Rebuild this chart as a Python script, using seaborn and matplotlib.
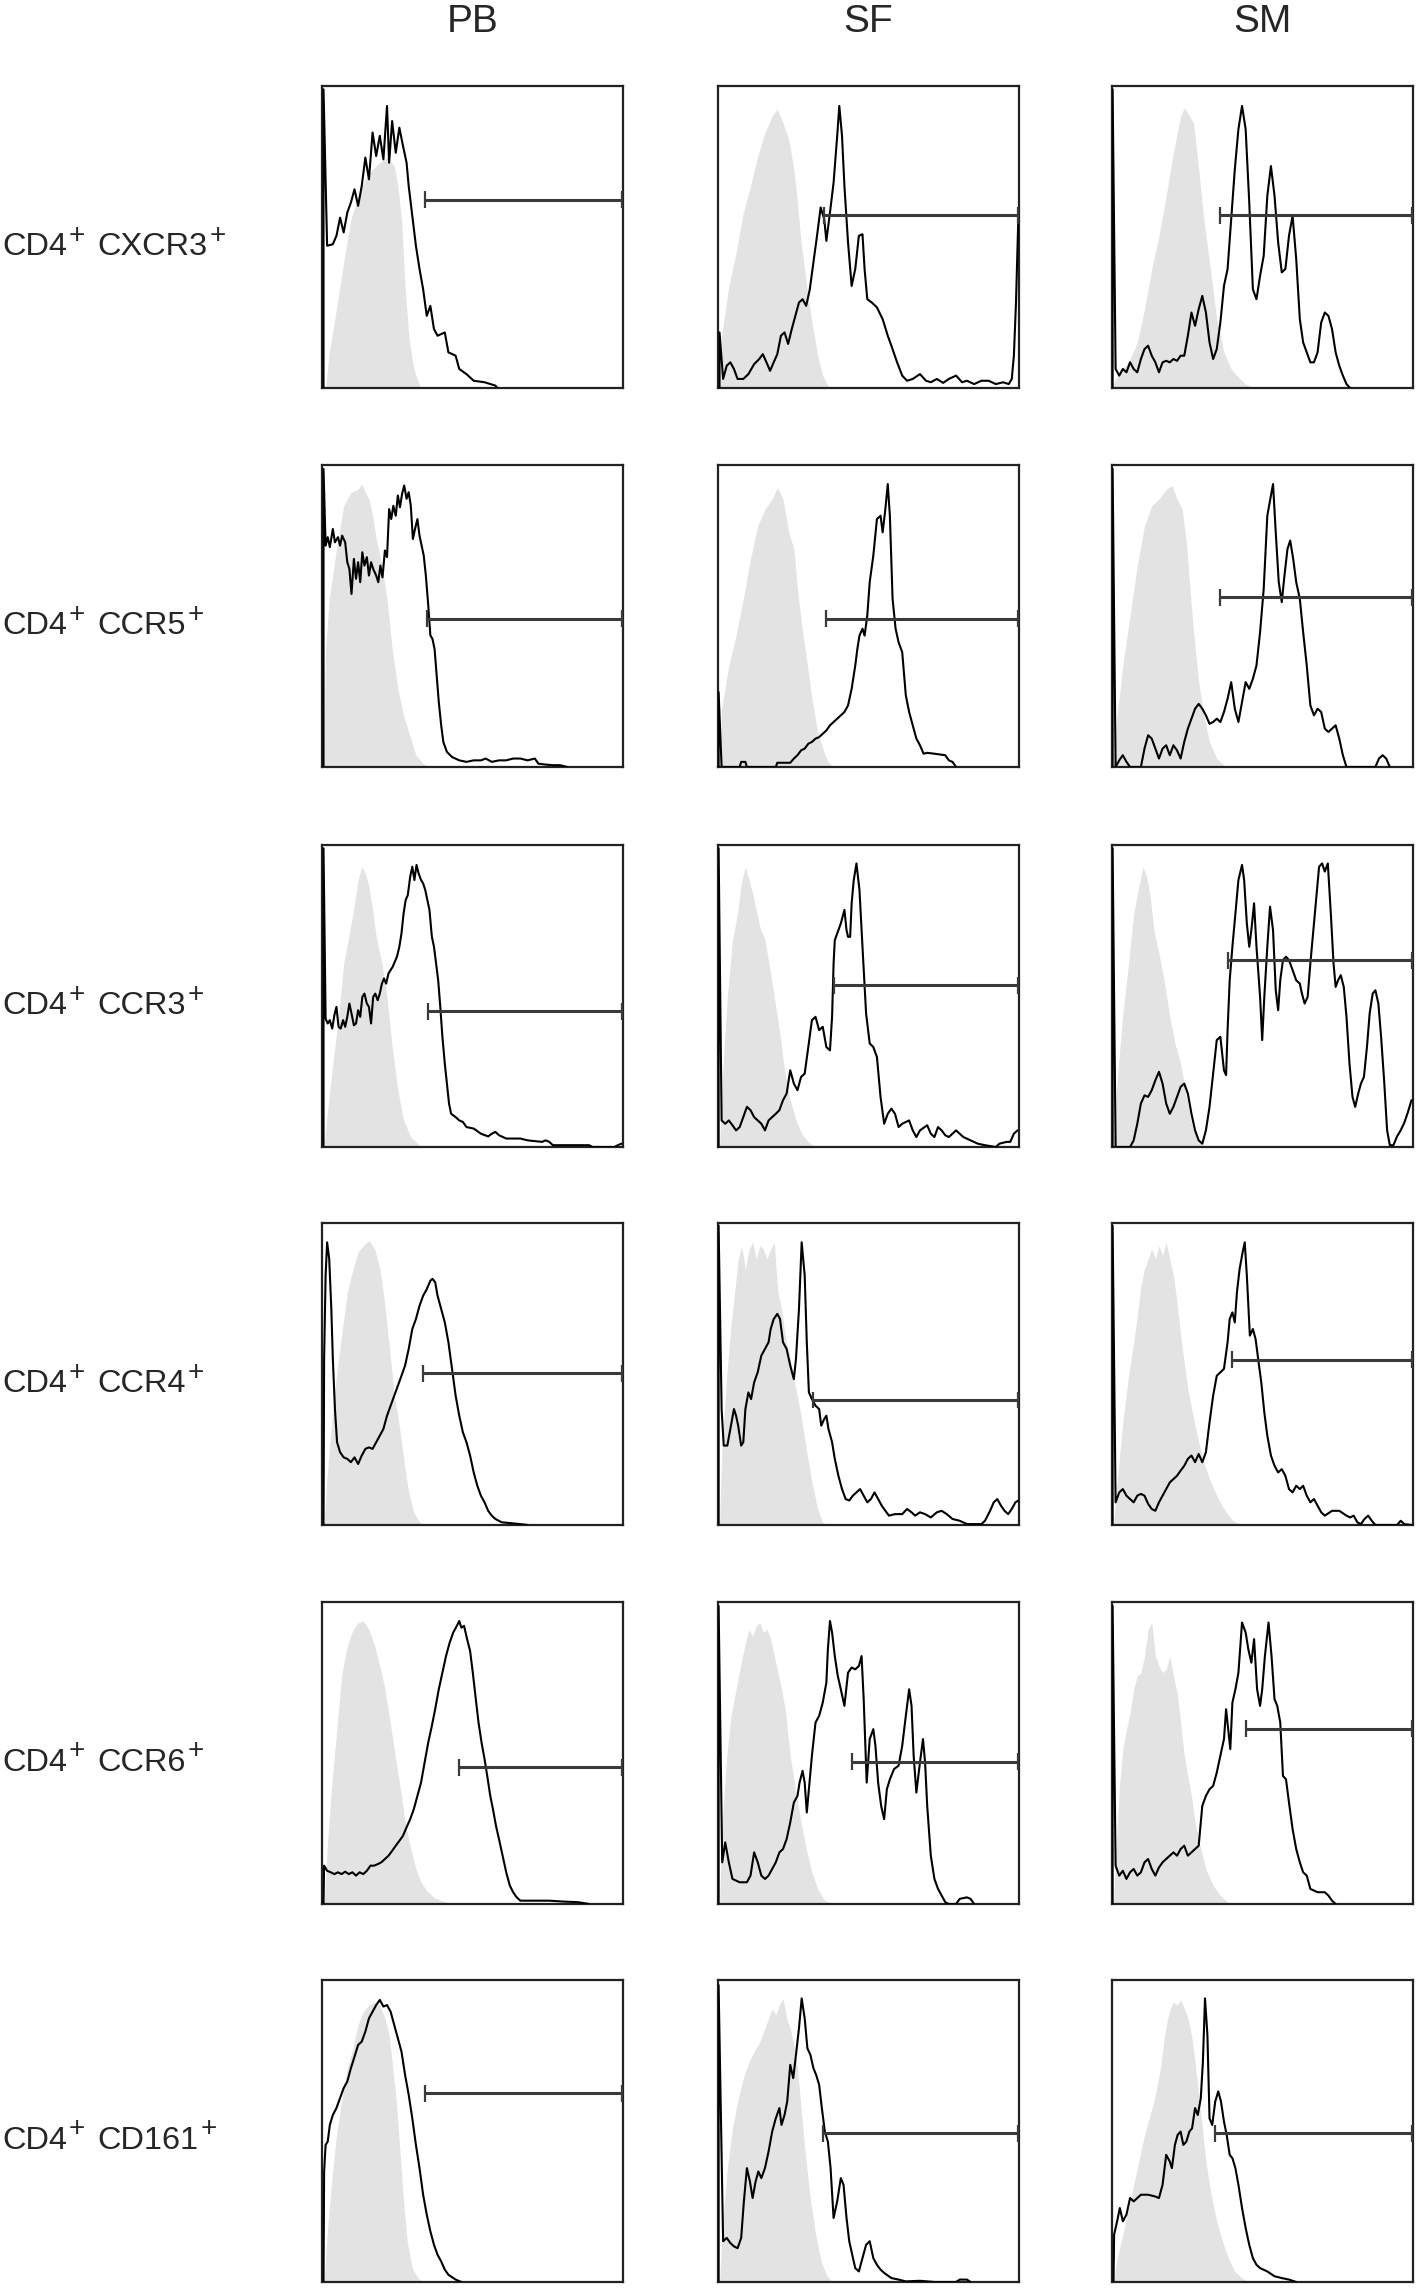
import matplotlib
matplotlib.use('Agg')
import matplotlib.pyplot as plt
import seaborn as sns

# column / row labels
tissues = ['PB', 'SF', 'SM']
markers = ['CXCR3', 'CCR5', 'CCR3', 'CCR4', 'CCR6', 'CD161']

# histograms: (channel %, count % of box height)
# ---- CXCR3 ----
cxcr3_pb = [(0.5, 0), (0.5, 98.9), (1.7, 47.1), (3.6, 47.6), (4.8, 50.4), (6.0, 56.4), (7.2, 51.5), (8.4, 58.1),
            (9.6, 61.4), (10.8, 65.8), (12.0, 60.3), (13.2, 66.9), (14.4, 76.3), (15.6, 69.1), (16.8, 84.6),
            (18.0, 76.8), (19.2, 83.5), (20.4, 75.7), (21.6, 93.4), (22.3, 74.6), (23.3, 88.4), (24.5, 77.9),
            (25.7, 86.2), (26.9, 80.2), (28.1, 74.6), (28.8, 66.9), (30.0, 57.0), (31.2, 47.1), (32.4, 39.4),
            (33.6, 32.7), (34.8, 23.9), (36.0, 27.2), (37.2, 19.5), (38.4, 17.3), (40.8, 18.4), (42.0, 11.8),
            (44.4, 10.7), (45.6, 6.3), (48.0, 4.6), (50.4, 2.4), (54.0, 1.9), (57.6, 0.8), (58.3, 0)]
cxcr3_pb_iso = [(1.2, 0), (2.4, 11.8), (4.8, 26.1), (7.2, 41.6), (9.6, 55.9), (12.0, 63.6), (14.4, 69.1),
                (16.8, 72.4), (19.2, 74.6), (21.6, 76.3), (24.0, 73.5), (25.2, 66.9), (26.4, 55.9), (27.6, 33.8),
                (28.8, 17.3), (30.5, 6.3), (32.4, 0.8), (33.6, 0)]
cxcr3_sf = [(0.5, 0), (0.5, 18.4), (1.7, 3.0), (2.9, 7.4), (4.1, 8.5), (5.3, 6.3), (6.5, 3.0), (8.4, 3.0),
            (10.1, 4.6), (12.0, 7.9), (13.7, 9.6), (14.9, 11.2), (16.1, 8.5), (17.3, 5.7), (18.5, 8.5),
            (19.7, 11.2), (20.9, 17.3), (22.1, 18.4), (23.3, 14.6), (24.5, 19.5), (25.7, 23.9), (26.9, 28.3),
            (28.1, 29.4), (29.3, 27.2), (30.5, 32.7), (31.7, 41.6), (32.9, 50.4), (34.1, 59.8), (35.3, 55.9),
            (36.0, 48.7), (37.2, 58.1), (38.4, 68.0), (39.6, 83.5), (40.3, 93.4), (41.2, 83.5), (42.0, 66.9),
            (43.2, 48.2), (44.4, 33.8), (45.6, 39.4), (46.8, 50.4), (48.0, 50.9), (48.7, 39.4), (49.6, 29.4),
            (51.1, 28.3), (52.8, 26.7), (54.7, 22.8), (56.4, 17.3), (57.6, 14.0), (59.5, 8.5), (61.2, 4.1),
            (62.8, 2.4), (64.7, 3.0), (67.1, 4.6), (69.1, 2.4), (70.7, 1.9), (72.7, 3.0), (74.8, 1.7),
            (76.7, 3.0), (79.1, 4.1), (81.1, 1.9), (82.7, 2.4), (85.1, 1.3), (87.5, 2.4), (89.9, 2.4),
            (92.3, 1.3), (94.7, 1.9), (96.6, 1.3), (97.6, 3.0), (98.3, 10.7), (99.0, 28.3), (99.8, 57.0)]
cxcr3_sf_iso = [(0, 0), (1.2, 17.3), (3.6, 33.8), (6.0, 44.8), (8.4, 58.1), (10.8, 66.9), (13.2, 76.8),
                (15.6, 84.6), (18.0, 90.1), (19.7, 92.3), (21.6, 87.8), (23.5, 82.3), (25.2, 72.4), (26.4, 61.4),
                (27.6, 48.2), (29.3, 35.0), (31.2, 21.8), (33.1, 10.7), (34.8, 4.1), (36.5, 0.8), (37.9, 0)]
cxcr3_sm = [(0.2, 0), (0.2, 98.9), (1.2, 6.3), (2.4, 4.1), (3.6, 6.3), (4.8, 5.2), (6.0, 8.5), (7.2, 6.3),
            (8.4, 5.2), (9.6, 9.6), (10.8, 12.9), (12.0, 14.0), (13.2, 10.7), (14.4, 8.5), (15.6, 5.2),
            (16.8, 8.5), (18.0, 9.0), (19.2, 8.5), (20.4, 9.6), (21.6, 9.0), (22.8, 10.7), (24.0, 10.7),
            (25.2, 17.3), (26.4, 25.0), (27.6, 20.6), (28.8, 26.1), (30.0, 30.5), (31.2, 25.0), (32.4, 15.1),
            (33.6, 9.6), (34.8, 12.9), (36.0, 21.7), (37.2, 33.8), (38.4, 39.4), (39.6, 55.9), (40.8, 72.4),
            (42.0, 85.7), (43.2, 93.4), (44.4, 85.7), (45.6, 61.4), (46.8, 32.7), (48.0, 29.4), (49.2, 37.2),
            (50.4, 43.8), (51.6, 63.6), (52.8, 73.5), (54.0, 63.6), (55.2, 48.2), (56.4, 38.3), (57.6, 39.4),
            (58.8, 50.4), (60.0, 57.0), (61.2, 42.7), (62.4, 22.8), (63.5, 15.1), (64.7, 11.8), (65.9, 8.5),
            (67.1, 8.5), (68.3, 11.8), (69.5, 21.7), (70.7, 25.0), (71.9, 23.9), (73.1, 19.5), (74.3, 11.8),
            (75.5, 7.4), (76.7, 4.1), (77.9, 1.3), (79.1, 0)]
cxcr3_sm_iso = [(0, 0), (1.2, 3.0), (3.6, 6.3), (6.0, 9.6), (8.4, 15.1), (10.8, 26.1), (13.2, 39.4), (15.6, 50.4),
                (18.0, 63.6), (20.4, 77.9), (22.8, 90.0), (24.0, 92.8), (25.2, 91.0), (27.1, 87.7), (28.8, 72.4),
                (30.5, 55.9), (32.4, 41.6), (34.8, 22.8), (37.2, 11.8), (39.6, 6.3), (42.0, 3.5), (44.4, 1.3),
                (46.8, 0.2), (48.0, 0)]

# ---- CCR5 ----
ccr5_pb = [(0.5, 0), (0.5, 98.7), (1.2, 73.3), (1.9, 76.1), (2.6, 72.8), (3.6, 78.8), (4.3, 74.4), (5.3, 76.1),
           (6.0, 73.3), (6.7, 76.6), (7.7, 74.4), (8.4, 67.8), (9.1, 65.6), (9.8, 57.3), (10.6, 68.9),
           (11.3, 62.3), (12.0, 67.8), (12.7, 61.2), (13.4, 71.1), (14.1, 66.7), (14.9, 69.5), (15.6, 63.4),
           (16.3, 67.8), (17.0, 65.6), (18.0, 63.4), (18.7, 61.2), (19.4, 66.7), (20.1, 62.8), (20.9, 71.7),
           (21.6, 69.5), (22.3, 85.4), (23.0, 82.1), (23.7, 86.5), (24.5, 83.2), (25.2, 89.9), (25.9, 86.0),
           (26.6, 90.4), (27.3, 93.2), (28.1, 88.8), (28.8, 91.0), (29.5, 86.5), (30.2, 75.5), (30.9, 78.8),
           (31.7, 82.1), (32.4, 76.6), (33.1, 73.3), (33.8, 70.0), (34.5, 63.4), (35.3, 53.5), (36.0, 43.6),
           (36.7, 42.4), (37.4, 39.1), (38.1, 30.3), (38.8, 21.5), (39.6, 13.8), (40.3, 8.3), (41.5, 5.0),
           (43.2, 3.3), (45.6, 2.2), (48.0, 1.7), (50.4, 2.2), (52.8, 2.2), (54.4, 2.8), (56.4, 1.7),
           (58.8, 2.2), (61.2, 2.2), (63.5, 2.8), (65.9, 2.8), (68.3, 2.2), (70.7, 2.8), (71.9, 1.1),
           (74.3, 0.8), (76.7, 0.6), (79.1, 0.6), (81.5, 0)]
ccr5_pb_iso = [(0.5, 0), (1.2, 39.1), (2.4, 55.7), (4.8, 72.2), (7.2, 86.5), (9.6, 90.9), (12.0, 92.0),
               (13.2, 93.7), (14.4, 90.9), (15.6, 88.7), (16.8, 83.2), (18.0, 75.5), (19.9, 66.7), (21.6, 55.7),
               (23.3, 39.1), (25.2, 25.9), (27.1, 17.1), (28.8, 11.6), (31.2, 3.9), (33.6, 1.1), (36.0, 0)]
ccr5_sf = [(0.2, 0), (0.2, 24.8), (1.2, 0), (7.2, 0), (7.7, 1.7), (9.1, 1.7), (9.6, 0), (19.2, 0), (19.7, 1.4),
           (24.0, 1.4), (25.2, 2.8), (26.4, 3.9), (27.6, 5.5), (28.8, 6.1), (30.0, 7.7), (31.2, 8.3), (32.4, 9.4),
           (33.6, 9.9), (34.8, 11.0), (36.0, 12.1), (37.2, 13.8), (38.4, 14.9), (39.6, 16.0), (40.8, 17.1),
           (42.0, 18.2), (43.2, 20.4), (44.4, 25.9), (45.6, 33.6), (46.3, 39.1), (47.0, 43.5), (48.0, 45.8),
           (48.7, 43.5), (49.6, 50.2), (50.4, 61.2), (51.6, 70.0), (52.8, 82.1), (54.0, 83.2), (54.7, 77.7),
           (55.6, 85.4), (56.4, 93.7), (57.1, 83.2), (58.0, 55.7), (59.0, 45.8), (60.0, 41.3), (61.2, 38.0),
           (62.4, 23.7), (63.5, 18.2), (64.7, 13.8), (65.9, 9.4), (67.1, 7.2), (68.3, 4.4), (69.5, 4.7),
           (71.9, 4.4), (75.5, 3.9), (76.7, 2.2), (77.9, 1.7), (79.1, 0)]
ccr5_sf_iso = [(0.5, 0), (1.2, 19.3), (3.6, 33.6), (6.0, 43.5), (8.4, 55.7), (10.8, 68.9), (13.2, 79.9),
               (15.6, 85.4), (18.0, 88.7), (19.7, 92.6), (21.6, 88.7), (23.5, 77.7), (25.2, 72.2), (26.4, 59.0),
               (28.1, 44.7), (29.7, 33.6), (31.2, 22.6), (33.1, 11.6), (34.8, 6.1), (36.5, 1.7), (38.4, 0)]
ccr5_sm = [(0.2, 0), (0.2, 98.7), (1.2, 0), (2.4, 2.2), (3.6, 3.9), (4.8, 1.7), (6.0, 0), (9.6, 0), (10.8, 6.1),
           (12.0, 10.5), (13.2, 9.4), (14.4, 6.1), (15.6, 2.8), (16.8, 6.1), (18.0, 7.2), (19.2, 3.9),
           (20.4, 7.2), (21.6, 5.5), (22.8, 2.8), (24.0, 8.3), (25.2, 12.7), (26.4, 16.0), (27.6, 19.3),
           (28.8, 20.9), (30.0, 19.3), (31.2, 17.1), (32.4, 14.3), (33.6, 14.9), (34.8, 16.0), (36.0, 14.9),
           (37.2, 18.2), (38.4, 22.6), (39.6, 28.1), (40.8, 19.3), (42.0, 14.9), (43.2, 21.5), (44.4, 28.1),
           (45.6, 25.9), (46.8, 29.2), (48.0, 33.6), (49.2, 44.7), (50.4, 59.0), (51.6, 83.2), (52.8, 89.9),
           (53.5, 93.7), (54.4, 77.7), (55.4, 61.2), (56.4, 54.6), (57.3, 63.4), (58.3, 72.2), (59.2, 75.0),
           (60.2, 68.9), (61.2, 61.2), (62.4, 55.7), (63.5, 44.7), (64.7, 33.6), (65.9, 20.4), (67.1, 17.1),
           (68.3, 19.3), (69.5, 18.2), (70.7, 12.7), (71.9, 11.6), (73.1, 12.7), (74.3, 13.8), (75.5, 9.4),
           (76.7, 3.9), (77.9, 0), (87.5, 0), (88.7, 2.8), (89.9, 3.9), (91.1, 2.8), (92.3, 0)]
ccr5_sm_iso = [(0.5, 0), (1.7, 17.1), (3.6, 33.6), (6.0, 50.2), (8.4, 66.7), (10.8, 79.9), (13.2, 86.5),
               (15.6, 88.7), (18.0, 92.0), (19.9, 93.2), (21.6, 88.7), (23.3, 85.4), (24.7, 74.4), (25.9, 59.0),
               (27.1, 44.7), (28.8, 28.1), (30.5, 17.1), (32.4, 8.3), (34.8, 2.8), (37.2, 0.6), (39.6, 0)]

# ---- CCR3 ----
ccr3_pb = [(0.5, 0), (0.5, 98.9), (1.2, 42.5), (1.9, 40.9), (2.6, 42.0), (3.4, 39.2), (4.1, 43.6), (4.8, 46.4),
           (5.5, 39.8), (6.2, 39.2), (7.0, 42.0), (7.7, 39.8), (8.4, 43.1), (9.1, 47.5), (9.8, 44.2),
           (10.6, 40.3), (11.3, 40.9), (12.0, 45.3), (12.7, 43.1), (13.4, 49.7), (14.1, 50.8), (14.9, 47.5),
           (15.6, 46.4), (16.3, 40.9), (17.0, 49.7), (17.7, 50.8), (18.5, 48.6), (19.2, 50.8), (19.9, 54.1),
           (20.6, 55.8), (21.3, 54.1), (22.1, 57.5), (22.8, 58.6), (23.5, 59.7), (24.9, 63.0), (25.7, 66.3),
           (26.4, 70.7), (27.1, 77.3), (27.8, 81.8), (28.5, 83.4), (29.3, 89.5), (30.0, 92.8), (30.7, 88.4),
           (31.4, 93.4), (32.1, 90.6), (32.9, 88.4), (33.6, 87.3), (34.3, 85.1), (35.0, 81.8), (35.7, 78.5),
           (36.5, 69.6), (37.2, 66.3), (37.9, 60.8), (38.6, 55.2), (39.3, 46.4), (40.0, 36.5), (40.8, 27.6),
           (41.5, 21.0), (42.2, 14.4), (42.9, 11.0), (44.4, 9.9), (45.6, 8.8), (46.8, 8.3), (48.0, 6.6),
           (50.4, 6.1), (52.8, 4.4), (55.2, 3.5), (56.4, 4.4), (57.6, 5.0), (58.8, 3.9), (61.2, 2.8),
           (65.9, 2.8), (68.3, 2.2), (73.1, 1.7), (74.3, 2.2), (75.5, 1.7), (76.7, 0.6), (88.7, 0.6),
           (89.9, 0), (97.1, 0), (98.3, 0.6), (99.5, 1.1)]
ccr3_pb_iso = [(0.7, 0), (1.7, 11.0), (3.6, 27.6), (5.5, 43.1), (7.2, 60.8), (8.9, 69.6), (10.3, 77.3),
               (12.0, 88.4), (13.2, 92.8), (14.4, 90.6), (15.6, 86.2), (16.8, 78.5), (18.0, 69.6), (19.9, 60.8),
               (21.6, 49.7), (23.3, 33.1), (25.2, 18.8), (27.1, 8.8), (29.5, 3.3), (32.4, 0.6), (34.8, 0)]
ccr3_sf = [(0.2, 0), (0.2, 98.9), (1.2, 8.8), (2.4, 7.7), (3.6, 8.8), (4.8, 7.2), (6.0, 5.5), (7.2, 6.6),
           (8.4, 9.9), (9.6, 13.3), (10.8, 12.2), (12.0, 9.9), (13.2, 8.8), (14.4, 7.7), (15.6, 5.5), (16.8, 8.8),
           (18.0, 9.9), (19.2, 11.0), (20.4, 12.2), (21.6, 15.5), (22.8, 17.7), (24.0, 25.4), (25.2, 21.0),
           (26.4, 18.8), (27.6, 23.2), (28.8, 24.3), (30.0, 33.1), (31.2, 42.0), (32.4, 43.1), (33.6, 38.7),
           (34.8, 39.8), (36.0, 33.1), (37.2, 32.0), (37.9, 43.1), (38.4, 60.8), (38.8, 68.5), (39.6, 70.7),
           (40.8, 74.0), (42.0, 78.5), (42.7, 71.8), (43.2, 69.6), (43.9, 69.6), (44.4, 80.7), (45.1, 88.4),
           (46.0, 93.9), (47.0, 85.1), (48.0, 66.3), (49.2, 44.2), (50.4, 34.3), (51.6, 33.1), (52.8, 29.8),
           (54.0, 16.6), (55.2, 7.7), (56.4, 11.0), (57.6, 12.7), (58.8, 11.0), (60.0, 6.6), (61.2, 7.7),
           (63.5, 8.8), (64.7, 5.5), (65.9, 3.3), (67.1, 5.5), (69.5, 7.2), (70.7, 4.4), (71.9, 3.3),
           (73.1, 6.6), (74.3, 5.5), (75.5, 3.9), (76.7, 3.3), (79.1, 5.5), (81.5, 3.3), (83.9, 2.2),
           (86.3, 1.1), (88.7, 0.6), (92.3, 0), (93.5, 1.1), (95.9, 1.7), (97.1, 1.7), (98.3, 4.4), (99.5, 5.5)]
ccr3_sf_iso = [(0.5, 0), (1.7, 27.6), (3.1, 49.7), (4.8, 68.5), (6.5, 77.3), (7.7, 87.3), (9.1, 92.8),
               (10.3, 88.4), (11.5, 84.0), (12.7, 78.5), (13.9, 72.9), (15.6, 68.5), (17.3, 58.6), (18.7, 49.7),
               (20.4, 38.7), (22.1, 25.4), (24.0, 15.5), (25.9, 8.8), (27.8, 4.4), (30.0, 1.7), (32.4, 0)]
ccr3_sm = [(0.2, 0), (0.2, 98.9), (1.2, 0), (6.0, 0), (7.2, 2.2), (8.4, 7.7), (9.6, 14.4), (10.8, 17.1),
           (12.0, 16.6), (13.2, 18.8), (14.4, 22.1), (15.6, 24.9), (16.8, 21.0), (18.0, 14.4), (19.2, 11.0),
           (20.4, 13.3), (21.6, 16.6), (22.8, 19.9), (24.0, 21.0), (25.2, 17.7), (26.4, 11.0), (27.6, 5.5),
           (28.8, 2.2), (30.0, 1.1), (31.2, 5.5), (32.4, 13.3), (33.6, 24.3), (34.8, 35.4), (36.0, 36.5),
           (37.2, 25.4), (37.9, 23.8), (38.4, 38.7), (39.1, 55.2), (40.0, 66.3), (41.0, 77.3), (42.0, 88.4),
           (43.2, 93.4), (43.9, 88.4), (44.8, 74.0), (45.6, 66.3), (46.3, 71.8), (47.2, 80.7), (48.0, 66.3),
           (49.2, 49.7), (49.9, 35.4), (50.6, 49.7), (51.6, 66.3), (52.5, 79.6), (53.5, 71.8), (54.4, 51.9),
           (55.2, 45.3), (55.9, 55.2), (56.8, 61.9), (57.8, 63.0), (58.8, 61.9), (60.0, 58.6), (61.2, 55.2),
           (62.4, 54.1), (63.1, 50.8), (64.0, 47.5), (65.0, 49.7), (65.9, 60.8), (66.9, 71.8), (67.9, 82.9),
           (68.8, 92.8), (69.8, 93.9), (70.7, 91.2), (71.7, 93.9), (72.7, 77.3), (73.6, 60.8), (74.3, 53.0),
           (75.1, 55.2), (76.0, 56.9), (77.0, 53.0), (77.9, 43.1), (78.9, 27.6), (79.9, 16.6), (80.8, 13.3),
           (81.8, 17.7), (82.7, 21.0), (83.7, 23.2), (84.7, 33.1), (85.6, 44.2), (86.6, 50.8), (87.5, 51.9),
           (88.5, 47.5), (89.4, 36.5), (90.4, 22.1), (91.4, 5.5), (92.3, 0.6), (93.5, 0.6), (94.7, 3.5),
           (95.9, 5.5), (97.1, 8.0), (98.3, 11.5), (99.5, 15.5)]
ccr3_sm_iso = [(0.5, 0), (1.7, 22.1), (3.6, 44.2), (5.5, 60.8), (7.2, 77.3), (8.9, 86.2), (10.3, 92.8),
               (11.5, 89.5), (12.7, 82.9), (13.9, 71.8), (15.6, 64.1), (17.3, 55.2), (19.2, 43.1), (20.9, 34.3),
               (22.8, 27.6), (24.7, 16.6), (26.4, 7.7), (28.1, 3.3), (30.0, 0.6), (32.4, 0)]

# ---- CCR4 ----
ccr4_pb = [(0.5, 0), (0.7, 55.0), (1.2, 82.6), (1.7, 93.6), (2.4, 88.1), (3.1, 71.5), (3.6, 55.0), (4.3, 38.4),
           (5.0, 27.4), (6.0, 24.1), (7.2, 22.4), (8.4, 21.9), (9.6, 20.8), (10.8, 22.4), (12.0, 20.2),
           (13.2, 23.0), (14.4, 25.2), (15.6, 25.7), (16.8, 25.2), (18.0, 27.4), (19.2, 29.6), (20.4, 31.8),
           (21.6, 36.2), (22.8, 39.5), (24.0, 42.8), (25.2, 46.1), (26.4, 49.4), (27.6, 52.8), (28.8, 58.3),
           (30.0, 64.9), (31.2, 68.2), (32.4, 72.6), (33.6, 75.9), (34.8, 78.1), (36.0, 80.9), (36.7, 81.5),
           (37.6, 80.4), (38.4, 75.9), (39.6, 71.5), (40.8, 67.1), (42.0, 60.5), (43.2, 51.7), (44.4, 42.8),
           (45.6, 36.2), (46.8, 30.7), (48.0, 27.4), (49.2, 23.0), (50.4, 17.4), (51.6, 13.0), (52.8, 9.7),
           (54.0, 7.5), (55.2, 4.7), (56.4, 3.1), (57.6, 2.0), (59.7, 0.9), (65.9, 0.3), (68.3, 0)]
ccr4_pb_iso = [(0.7, 0), (1.7, 16.3), (3.1, 32.9), (4.8, 49.4), (6.5, 62.7), (8.4, 77.0), (10.3, 84.8),
               (12.0, 90.3), (13.7, 92.5), (15.6, 94.2), (17.5, 91.4), (19.2, 84.8), (20.4, 77.0), (21.6, 66.0),
               (22.8, 55.0), (24.0, 42.8), (25.2, 36.2), (26.4, 27.4), (27.6, 18.5), (28.8, 10.8), (30.5, 4.2),
               (32.4, 0.9), (34.3, 0)]
ccr4_sf = [(0.2, 0), (0.2, 99.1), (1.2, 38.4), (1.9, 26.3), (3.1, 26.3), (4.3, 32.9), (5.3, 38.4), (6.0, 36.2),
           (6.7, 32.9), (7.7, 26.3), (8.4, 27.4), (9.1, 38.4), (10.1, 43.9), (11.0, 41.7), (12.0, 47.2),
           (13.2, 50.6), (14.4, 56.1), (15.6, 58.3), (16.8, 60.5), (17.5, 64.9), (18.5, 68.2), (19.7, 69.9),
           (20.6, 68.2), (21.6, 60.5), (22.8, 58.3), (24.0, 52.8), (25.2, 48.3), (25.9, 55.0), (26.9, 71.5),
           (27.8, 93.6), (28.8, 82.6), (29.5, 60.5), (30.2, 43.9), (31.2, 41.7), (32.4, 39.5), (33.6, 38.4),
           (34.3, 32.9), (35.3, 35.1), (36.0, 36.2), (36.7, 31.8), (37.9, 27.4), (38.8, 21.9), (40.0, 16.3),
           (41.2, 11.9), (42.4, 8.6), (43.6, 8.1), (44.8, 9.7), (46.0, 10.8), (47.2, 11.9), (48.4, 9.7),
           (49.6, 7.5), (50.8, 8.6), (52.0, 10.8), (53.2, 8.6), (54.4, 6.4), (55.6, 4.7), (56.8, 3.1),
           (58.8, 3.6), (61.2, 3.6), (62.8, 5.3), (64.3, 4.2), (65.5, 3.1), (67.1, 4.2), (68.8, 3.6),
           (70.7, 2.5), (72.7, 4.2), (74.3, 4.7), (76.0, 3.6), (77.9, 2.0), (80.3, 1.4), (82.7, 0.3),
           (87.5, 0.3), (88.7, 1.4), (90.4, 4.7), (91.6, 7.5), (92.8, 8.6), (94.0, 6.4), (95.2, 4.7),
           (96.4, 3.6), (97.6, 5.3), (98.8, 7.5), (99.8, 8.1)]
ccr4_sf_iso = [(0.5, 0), (1.4, 27.4), (2.9, 49.4), (4.3, 65.9), (5.5, 76.9), (6.7, 87.9), (7.9, 92.3),
               (9.1, 84.6), (10.3, 91.2), (11.5, 93.6), (12.7, 88.1), (13.9, 92.5), (15.1, 91.4), (16.3, 88.1),
               (17.5, 91.4), (18.7, 93.6), (19.9, 77.0), (21.1, 71.5), (22.3, 62.7), (24.0, 55.0), (25.7, 46.1),
               (27.6, 36.2), (29.3, 25.2), (31.2, 14.1), (33.1, 5.3), (34.8, 0.9), (36.5, 0)]
ccr4_sm = [(0.2, 0), (0.2, 99.1), (1.2, 7.5), (2.4, 10.8), (3.6, 11.9), (4.8, 9.7), (6.0, 8.6), (7.2, 7.5),
           (8.4, 9.7), (9.6, 10.3), (10.8, 9.7), (12.0, 7.0), (13.2, 5.3), (14.4, 4.7), (15.6, 7.5), (16.8, 9.7),
           (18.0, 11.9), (19.2, 14.1), (20.4, 15.2), (21.6, 16.3), (22.8, 18.0), (24.0, 19.6), (25.2, 21.9),
           (26.4, 23.0), (27.6, 20.8), (28.8, 23.5), (30.0, 20.8), (31.2, 24.1), (32.4, 34.0), (33.6, 42.8),
           (34.8, 49.4), (37.2, 51.7), (38.4, 60.5), (39.1, 68.2), (40.0, 70.4), (40.8, 67.1), (41.5, 77.0),
           (42.4, 84.8), (43.4, 90.3), (44.1, 93.6), (44.8, 82.6), (45.8, 62.7), (46.8, 64.9), (47.7, 61.6),
           (48.7, 53.9), (49.6, 47.2), (50.6, 37.3), (51.6, 29.6), (52.8, 23.0), (54.0, 19.6), (55.2, 17.4),
           (56.4, 18.5), (57.6, 16.3), (58.8, 11.9), (60.0, 10.8), (61.2, 13.0), (62.4, 11.9), (63.5, 13.0),
           (64.7, 9.7), (65.9, 7.5), (67.1, 8.6), (68.3, 6.4), (69.5, 4.2), (70.7, 3.1), (73.1, 4.7),
           (75.5, 4.7), (77.9, 3.1), (79.1, 2.5), (80.3, 3.1), (81.5, 0.9), (82.7, 0.3), (83.9, 2.0),
           (85.1, 3.1), (86.3, 1.4), (87.5, 0), (94.7, 0), (95.9, 1.4), (97.1, 0.3), (99.5, 0)]
ccr4_sm_iso = [(0.5, 0), (1.2, 8.6), (2.4, 21.9), (3.6, 34.0), (5.5, 49.4), (7.2, 60.5), (8.4, 69.3),
               (9.6, 79.2), (10.8, 84.8), (12.0, 88.1), (13.2, 91.4), (14.4, 88.1), (15.6, 92.5), (16.8, 89.2),
               (18.0, 93.6), (19.2, 88.1), (20.4, 82.6), (21.6, 73.7), (22.8, 62.7), (24.0, 53.9), (25.2, 45.0),
               (26.9, 36.2), (28.8, 27.4), (30.5, 20.8), (32.4, 15.2), (34.8, 9.7), (37.2, 5.3), (39.6, 2.0),
               (42.0, 0.3), (44.4, 0)]

# ---- CCR6 ----
ccr6_pb = [(0.5, 0), (0.7, 12.7), (1.7, 11.0), (2.9, 10.5), (4.1, 9.9), (5.3, 10.5), (6.5, 9.9), (7.7, 10.7),
           (8.9, 9.9), (10.1, 10.5), (11.3, 9.4), (12.5, 10.5), (13.7, 9.9), (14.9, 11.0), (16.1, 12.7),
           (17.3, 12.7), (18.5, 13.2), (19.7, 13.8), (20.9, 14.9), (22.1, 16.0), (23.3, 17.6), (24.5, 19.3),
           (25.7, 20.9), (26.9, 22.6), (28.1, 25.4), (29.3, 28.1), (30.5, 31.4), (31.7, 35.8), (32.9, 40.2),
           (34.1, 46.9), (35.3, 53.5), (36.5, 59.0), (37.6, 64.5), (38.8, 71.1), (40.0, 76.6), (41.2, 82.1),
           (42.4, 86.5), (43.6, 89.9), (44.8, 92.1), (45.6, 93.7), (46.3, 91.5), (47.2, 92.1), (48.2, 87.7),
           (49.2, 83.8), (50.1, 76.6), (51.1, 67.8), (52.0, 60.1), (53.0, 53.5), (54.0, 48.0), (54.9, 42.4),
           (55.9, 35.8), (56.8, 31.4), (57.8, 25.9), (58.8, 21.5), (60.0, 16.0), (61.2, 10.5), (62.4, 6.1),
           (63.5, 3.9), (64.7, 2.2), (65.9, 1.1), (70.7, 1.1), (75.5, 1.1), (80.3, 0.8), (85.1, 0.6), (88.7, 0)]
ccr6_pb_iso = [(0.7, 0), (1.7, 18.2), (3.1, 38.0), (4.8, 56.8), (6.5, 75.5), (8.4, 85.4), (10.3, 90.9),
               (12.0, 93.2), (13.7, 93.7), (15.6, 90.9), (17.5, 85.4), (19.2, 78.8), (20.9, 71.1), (22.3, 62.3),
               (24.0, 51.2), (25.2, 43.5), (26.4, 35.8), (27.6, 27.0), (29.5, 18.2), (31.2, 11.6), (32.9, 7.2),
               (34.8, 4.4), (37.2, 2.2), (39.6, 1.1), (43.2, 0)]
ccr6_sf = [(0.2, 0), (0.2, 98.7), (1.4, 13.8), (2.4, 20.4), (3.6, 13.8), (4.8, 8.3), (7.2, 7.2), (9.6, 7.2),
           (10.8, 9.4), (12.0, 17.1), (13.2, 13.8), (14.4, 9.4), (15.6, 8.3), (16.8, 9.4), (18.0, 11.6),
           (19.2, 13.8), (20.4, 17.1), (21.6, 18.2), (22.8, 21.5), (24.0, 27.0), (25.2, 33.6), (26.4, 35.8),
           (27.1, 40.2), (28.1, 44.1), (28.8, 40.2), (29.5, 30.3), (30.2, 38.0), (31.2, 49.1), (32.4, 60.1),
           (33.6, 62.3), (34.8, 66.7), (36.0, 73.3), (36.5, 84.3), (37.2, 93.7), (37.9, 89.9), (38.8, 82.1),
           (39.8, 75.5), (40.8, 71.1), (42.0, 65.6), (43.2, 76.6), (44.4, 78.3), (45.6, 77.7), (46.8, 78.8),
           (47.7, 82.1), (48.4, 67.8), (49.4, 40.2), (50.4, 54.6), (51.6, 57.9), (52.3, 52.4), (53.2, 40.2),
           (54.2, 32.5), (55.2, 28.1), (56.1, 38.0), (57.1, 41.3), (58.5, 44.7), (60.0, 45.8), (61.2, 52.4),
           (62.4, 62.3), (63.5, 71.1), (64.3, 65.6), (65.0, 49.1), (65.9, 36.9), (67.1, 46.9), (68.1, 54.6),
           (68.8, 46.9), (69.5, 32.5), (70.7, 16.0), (71.9, 8.3), (73.1, 5.0), (74.3, 2.8), (75.5, 0.6),
           (76.7, 0), (79.1, 0), (80.3, 1.7), (82.7, 2.2), (83.9, 1.7), (85.1, 0)]
ccr6_sf_iso = [(0.5, 0), (1.4, 27.0), (2.9, 49.1), (4.3, 62.3), (6.0, 71.1), (7.7, 79.9), (9.1, 86.5),
               (10.3, 90.9), (11.5, 88.7), (12.7, 92.0), (13.9, 93.2), (15.1, 89.9), (16.3, 91.0), (17.5, 87.7),
               (18.7, 82.1), (19.9, 76.6), (21.1, 71.1), (22.3, 64.5), (24.0, 49.1), (25.7, 38.0), (27.6, 27.0),
               (29.3, 18.2), (31.2, 10.5), (33.1, 5.0), (35.5, 1.1), (38.4, 0)]
ccr6_sm = [(0.2, 0), (0.2, 98.7), (1.2, 12.7), (2.4, 9.4), (3.6, 11.0), (4.8, 8.3), (6.0, 10.5), (7.2, 11.6),
           (8.4, 9.4), (9.6, 10.5), (10.8, 13.8), (12.0, 14.9), (13.2, 11.6), (14.4, 9.4), (15.6, 12.1),
           (16.8, 13.8), (18.0, 14.9), (19.2, 16.0), (20.4, 17.1), (21.6, 16.0), (22.8, 18.2), (24.0, 19.3),
           (25.2, 16.0), (26.4, 17.1), (27.6, 18.2), (28.8, 19.3), (30.0, 32.5), (31.2, 35.8), (32.4, 38.0),
           (33.6, 39.1), (34.8, 43.5), (36.0, 49.1), (37.2, 54.6), (37.9, 64.5), (38.6, 57.9), (39.3, 51.3),
           (40.0, 66.7), (41.0, 71.1), (42.0, 76.6), (43.2, 93.2), (44.4, 89.9), (45.3, 84.3), (46.3, 79.9),
           (47.2, 87.7), (48.2, 71.1), (49.2, 65.6), (49.9, 71.1), (50.8, 82.1), (52.0, 93.2), (53.0, 82.1),
           (54.0, 67.8), (54.9, 65.6), (55.9, 60.1), (56.8, 42.4), (57.8, 41.3), (58.8, 33.6), (60.0, 24.8),
           (61.2, 18.2), (62.4, 13.8), (63.5, 10.5), (64.7, 9.4), (65.9, 5.0), (68.3, 3.9), (70.7, 3.9),
           (71.9, 2.8), (73.1, 1.1), (74.3, 0)]
ccr6_sm_iso = [(0.5, 0), (1.2, 16.0), (2.4, 38.0), (3.6, 51.3), (4.8, 57.9), (6.0, 63.4), (7.2, 71.1),
               (8.4, 75.5), (9.6, 76.6), (10.8, 82.1), (12.0, 90.9), (13.2, 93.2), (14.4, 82.1), (15.6, 78.8),
               (16.8, 76.6), (18.0, 77.7), (19.2, 82.1), (20.4, 75.5), (21.6, 70.0), (22.8, 60.1), (24.0, 49.1),
               (25.2, 42.4), (26.4, 35.8), (27.6, 27.0), (29.5, 18.2), (31.2, 11.6), (33.6, 6.1), (36.0, 2.8),
               (38.4, 0.6), (42.0, 0)]

# ---- CD161 ----
cd161_pb = [(0.5, 0), (0.7, 36.6), (1.2, 45.4), (1.9, 46.5), (2.6, 52.0), (3.6, 55.3), (4.8, 57.6), (6.0, 60.9),
            (7.2, 64.2), (8.4, 66.4), (9.6, 70.8), (10.8, 74.6), (12.0, 78.5), (13.2, 79.6), (14.4, 82.9),
            (15.6, 87.3), (16.8, 89.5), (18.0, 91.7), (19.2, 93.4), (20.4, 91.2), (21.6, 91.7), (22.8, 89.5),
            (24.0, 85.1), (25.2, 80.7), (26.4, 76.3), (27.6, 68.6), (28.8, 62.0), (30.0, 54.2), (31.2, 45.4),
            (32.4, 37.7), (33.6, 28.9), (34.8, 22.3), (36.0, 16.8), (37.2, 12.3), (38.4, 9.0), (39.6, 6.8),
            (40.8, 4.1), (42.0, 2.4), (44.4, 0.8), (46.3, 0)]
cd161_pb_iso = [(0.7, 0), (1.7, 15.7), (3.1, 32.2), (4.8, 48.7), (6.5, 59.7), (8.4, 70.8), (10.3, 77.4),
                (12.0, 85.1), (13.7, 89.5), (15.6, 91.7), (17.5, 92.8), (19.2, 91.7), (20.9, 87.3), (22.3, 81.8),
                (23.5, 70.8), (24.7, 59.7), (25.9, 43.2), (27.1, 26.7), (28.3, 13.5), (30.0, 4.6), (31.9, 1.3),
                (33.6, 0)]
cd161_sf = [(0.2, 0), (0.2, 98.3), (1.7, 13.5), (2.9, 14.6), (4.1, 12.9), (5.3, 11.8), (6.5, 11.2), (7.7, 14.6),
            (8.6, 26.7), (9.6, 37.7), (10.6, 33.3), (11.5, 27.8), (12.5, 33.3), (13.4, 36.6), (14.4, 34.4),
            (15.6, 37.7), (16.8, 43.2), (18.0, 49.8), (19.2, 54.2), (20.4, 57.6), (21.1, 52.0), (22.1, 55.3),
            (23.0, 59.8), (24.0, 71.9), (25.0, 67.5), (25.9, 75.2), (26.9, 84.0), (27.8, 93.9), (28.8, 87.3),
            (29.7, 77.4), (30.7, 75.2), (31.7, 70.8), (32.6, 68.6), (33.6, 65.3), (34.5, 57.6), (35.5, 49.8),
            (36.5, 46.5), (37.4, 37.7), (38.4, 21.2), (39.6, 26.7), (40.8, 34.4), (41.7, 32.2), (42.7, 21.2),
            (43.6, 13.5), (44.6, 9.0), (45.6, 4.6), (46.8, 3.5), (48.0, 7.9), (49.2, 12.3), (50.4, 13.5),
            (51.6, 7.9), (52.8, 5.7), (54.0, 4.1), (55.2, 3.0), (57.6, 1.3), (60.0, 0.8), (62.4, 0.2),
            (67.1, 0.4), (71.9, 0), (79.1, 0), (80.3, 0.8), (82.7, 0.8), (83.9, 0)]
cd161_sf_iso = [(0.5, 0), (1.7, 21.2), (3.1, 37.7), (4.8, 50.9), (6.5, 59.7), (8.4, 67.5), (10.3, 73.0),
                (12.0, 76.3), (13.9, 79.6), (15.6, 84.0), (16.8, 87.3), (18.0, 90.6), (19.2, 88.4), (20.4, 91.7),
                (21.6, 93.9), (22.8, 87.3), (24.0, 84.0), (25.2, 78.5), (26.4, 70.8), (27.6, 57.6), (28.8, 44.3),
                (30.5, 28.9), (32.4, 15.7), (34.3, 6.8), (36.0, 2.4), (37.9, 0)]
cd161_sm = [(0.5, 0), (0.7, 15.7), (1.7, 20.1), (2.6, 24.5), (3.6, 20.1), (4.8, 22.3), (6.0, 27.8), (7.2, 26.7),
            (8.4, 27.8), (9.6, 28.9), (12.0, 28.9), (14.4, 28.3), (15.6, 27.8), (16.8, 32.2), (18.0, 42.1),
            (19.2, 39.9), (19.9, 37.7), (20.9, 45.4), (21.8, 48.7), (22.8, 49.8), (23.7, 45.4), (24.7, 46.5),
            (25.7, 49.8), (26.6, 50.9), (27.6, 57.6), (28.5, 55.3), (29.5, 60.9), (30.2, 73.0), (30.9, 93.9),
            (31.7, 81.8), (32.4, 54.2), (33.3, 52.0), (34.3, 59.8), (35.3, 63.1), (36.2, 59.8), (37.2, 53.1),
            (38.1, 48.7), (39.1, 42.1), (40.0, 41.0), (41.0, 37.7), (42.0, 32.2), (43.2, 24.5), (44.4, 17.9),
            (45.6, 12.3), (46.8, 7.9), (48.0, 5.7), (49.2, 4.6), (51.6, 3.5), (54.0, 1.9), (56.4, 1.3),
            (58.8, 0.8), (61.2, 0)]
cd161_sm_iso = [(0.5, 0), (1.7, 7.9), (3.6, 15.7), (5.5, 24.5), (7.2, 32.2), (8.9, 39.9), (10.8, 48.7),
                (12.7, 55.3), (14.4, 61.9), (16.1, 70.8), (17.5, 81.8), (18.5, 87.3), (19.4, 90.6), (20.4, 92.8),
                (21.6, 91.7), (22.8, 93.4), (24.0, 90.6), (25.2, 87.3), (26.4, 81.8), (27.6, 73.0), (28.8, 62.0),
                (30.0, 51.0), (31.2, 39.9), (32.9, 28.9), (34.8, 20.1), (36.7, 13.5), (38.6, 8.0), (40.8, 3.5),
                (43.2, 1.3), (45.6, 0)]

# positive gate: start channel and drawing height, per row [PB, SF, SM]
gate_start = [[34.1, 35.3, 36.0],
              [34.8, 36.0, 36.0],
              [35.3, 38.4, 38.4],
              [33.6, 31.7, 40.0],
              [45.6, 44.4, 44.4],
              [34.1, 34.8, 34.3]]
gate_level = [[62.3, 57.2, 57.2],
              [49.1, 49.1, 56.2],
              [45.0, 53.6, 61.9],
              [50.3, 41.4, 54.7],
              [45.2, 47.1, 58.1],
              [62.5, 49.3, 49.3]]

stains = [[cxcr3_pb, cxcr3_sf, cxcr3_sm],
          [ccr5_pb, ccr5_sf, ccr5_sm],
          [ccr3_pb, ccr3_sf, ccr3_sm],
          [ccr4_pb, ccr4_sf, ccr4_sm],
          [ccr6_pb, ccr6_sf, ccr6_sm],
          [cd161_pb, cd161_sf, cd161_sm]]
isotypes = [[cxcr3_pb_iso, cxcr3_sf_iso, cxcr3_sm_iso],
            [ccr5_pb_iso, ccr5_sf_iso, ccr5_sm_iso],
            [ccr3_pb_iso, ccr3_sf_iso, ccr3_sm_iso],
            [ccr4_pb_iso, ccr4_sf_iso, ccr4_sm_iso],
            [ccr6_pb_iso, ccr6_sf_iso, ccr6_sm_iso],
            [cd161_pb_iso, cd161_sf_iso, cd161_sm_iso]]

sns.set_style('white')
plt.rcParams['font.family'] = ['Liberation Sans', 'DejaVu Sans']

W, H = 1418, 2288
fig = plt.figure(figsize=(W / 100, H / 100), dpi=100)
renderer = fig.canvas.get_renderer()

# panel geometry in pixels
col_left = [322, 718, 1112]
row_top = [86, 465, 845, 1223, 1602, 1980]
box_w, box_h = 301, 302


def draw_panel(ax, stain, iso, g_start, g_level):
    ix, iy = zip(*iso)
    ax.fill_between(ix, iy, 0, color='#e3e3e3', lw=0, zorder=1)
    sx, sy = zip(*stain)
    sns.lineplot(x=list(sx), y=list(sy), ax=ax, color='black', lw=1.5,
                 sort=False, estimator=None, zorder=3)
    # gate marker
    ax.hlines(g_level, g_start, 99.6, color='#3a3a3a', lw=2.2, zorder=4)
    ax.vlines([g_start, 99.6], g_level - 2.8, g_level + 2.8, color='#3a3a3a', lw=1.6, zorder=4)
    ax.set_xlim(0, 100)
    ax.set_ylim(0, 100)
    ax.set_xticks([])
    ax.set_yticks([])
    for sp in ax.spines.values():
        sp.set_color('#222222')
        sp.set_linewidth(1.6)


def row_label(x_px, base_px, name):
    # "CD4+ NAME+" with full-size raised plus signs
    parts = [('CD4', False, 2), ('+', True, 12), (name, False, 2), ('+', True, 0)]
    x = x_px
    for txt, sup, gap in parts:
        y = base_px - 12.5 if sup else base_px
        t = fig.text(x / W, 1 - y / H, txt, ha='left', va='baseline',
                     fontsize=20 if sup else 23.4)
        x = t.get_window_extent(renderer).x1 + gap


for r in range(len(markers)):
    for c in range(len(tissues)):
        ax = fig.add_axes([col_left[c] / W, 1 - (row_top[r] + box_h) / H, box_w / W, box_h / H])
        draw_panel(ax, stains[r][c], isotypes[r][c], gate_start[r][c], gate_level[r][c])

# column headers
for c, t in enumerate(tissues):
    fig.text((col_left[c] + box_w / 2) / W, 1 - 32 / H, t, ha='center', va='baseline', fontsize=28)

# row labels
for r, m in enumerate(markers):
    row_label(2, row_top[r] + box_h / 2 + 18, m)

fig.savefig('out.png', dpi=100)
